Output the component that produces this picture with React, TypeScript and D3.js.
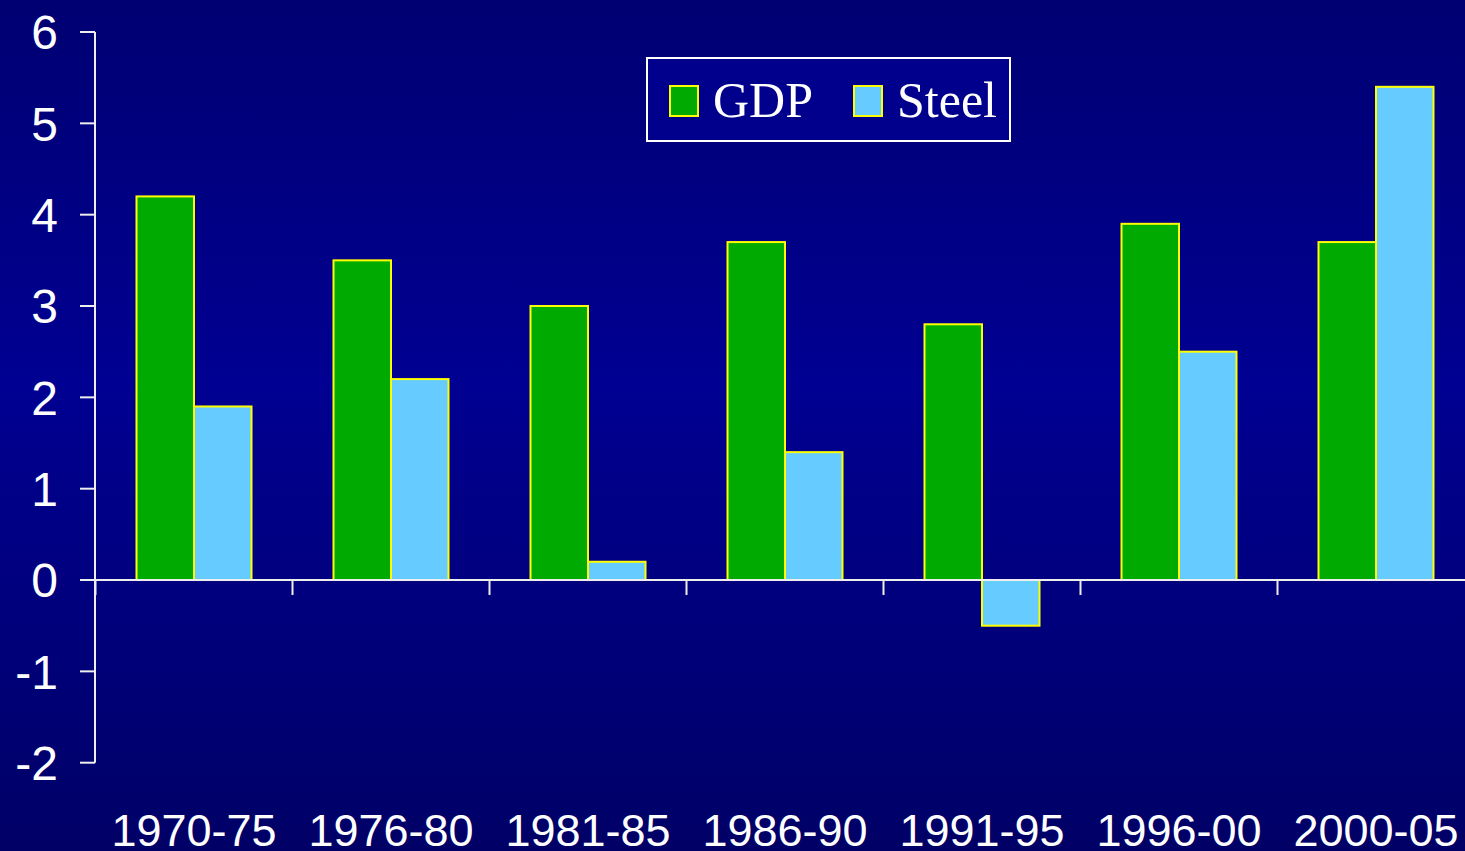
import React, { useEffect } from "react";
import * as d3 from "d3";

const categories = ["1970-75", "1976-80", "1981-85", "1986-90", "1991-95", "1996-00", "2000-05"];
const gdpValues = [4.2, 3.5, 3.0, 3.7, 2.8, 3.9, 3.7];
const steelValues = [1.9, 2.2, 0.2, 1.4, -0.5, 2.5, 5.4];
const yTicks = [-2, -1, 0, 1, 2, 3, 4, 5, 6];
const seriesNames = ["GDP", "Steel"];
const seriesColors = ["#00aa00", "#66ccff"];

const W = 1465;
const H = 851;

export default function App() {
  useEffect(() => {
    document.body.style.margin = "0";
  }, []);

  const x0 = d3.scaleBand<string>().domain(categories).range([95.5, 95.5 + 197 * 7]).paddingInner(0).paddingOuter(0);
  const bandW = x0.bandwidth();
  const barW = 57.5;
  const y = d3.scaleLinear().domain([-2, 6]).range([762.7, 32]);
  const y0 = y(0);
  const axisColor = "#eeeeee";

  const tickXs = categories.map((c) => x0(c)!);

  return (
    <svg width={W} height={H} style={{ display: "block" }} fontFamily="'Liberation Sans', Arial, sans-serif">
      <defs>
        <linearGradient id="bg" x1="0" y1="0" x2="0" y2="1">
          <stop offset="0" stopColor="#000072" />
          <stop offset="0.45" stopColor="#000092" />
          <stop offset="1" stopColor="#000066" />
        </linearGradient>
      </defs>
      <rect x={0} y={0} width={W} height={H} fill="url(#bg)" />

      {/* bars */}
      {categories.map((c, i) => {
        const cx = x0(c)! + bandW / 2;
        const vals = [gdpValues[i], steelValues[i]];
        return (
          <g key={c}>
            {vals.map((v, j) => {
              const bx = cx - barW + j * barW;
              const top = Math.min(y(v), y0);
              const h = Math.abs(y(v) - y0);
              return (
                <rect key={j} x={bx} y={top} width={barW} height={h} fill={seriesColors[j]} stroke="#ffff00" strokeWidth={2} />
              );
            })}
          </g>
        );
      })}

      {/* y axis */}
      <line x1={95} x2={95} y1={y(6)} y2={y(-2)} stroke={axisColor} strokeWidth={2} />
      {yTicks.map((t) => (
        <g key={t}>
          <line x1={80} x2={95} y1={y(t)} y2={y(t)} stroke={axisColor} strokeWidth={2} />
          <text x={58} y={y(t)} dy="0.36em" textAnchor="end" fill="#ffffff" fontSize={48}>
            {t}
          </text>
        </g>
      ))}

      {/* x axis */}
      <line x1={80} x2={W} y1={y0} y2={y0} stroke={axisColor} strokeWidth={2} />
      {tickXs.map((tx, i) => (
        <line key={i} x1={tx} x2={tx} y1={y0} y2={y0 + 15} stroke={axisColor} strokeWidth={2} />
      ))}
      {categories.map((c) => (
        <text key={c} x={x0(c)! + bandW / 2} y={846} textAnchor="middle" fill="#ffffff" fontSize={45}>
          {c}
        </text>
      ))}

      {/* legend */}
      <rect x={647} y={58} width={363} height={83} fill="#00008c" stroke="#ffffff" strokeWidth={2} />
      {seriesNames.map((n, j) => {
        const lx = j === 0 ? 670 : 854;
        return (
          <g key={n}>
            <rect x={lx} y={86} width={28} height={30} fill={seriesColors[j]} stroke="#ffff00" strokeWidth={2} />
            <text x={lx + 43} y={117} fill="#ffffff" fontSize={50} fontFamily="'Liberation Serif', 'Times New Roman', serif">
              {n}
            </text>
          </g>
        );
      })}
    </svg>
  );
}
